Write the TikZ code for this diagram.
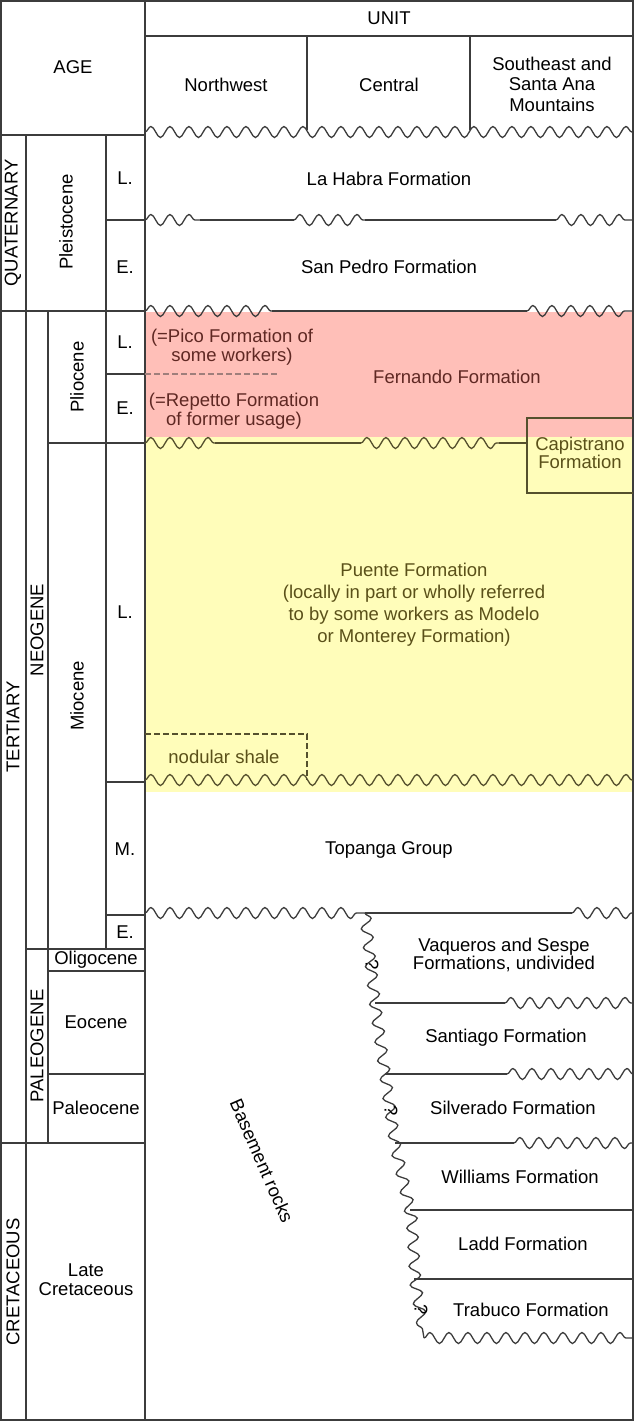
\documentclass[tikz,border=0pt]{standalone}
\usepackage{fontspec}
\setmainfont{Liberation Sans}
\usepackage{xcolor}
\usepackage{tikz}
\usetikzlibrary{decorations.pathmorphing}

\definecolor{pinkfill}{RGB}{255,191,184}
\definecolor{yellowfill}{RGB}{255,253,186}
\definecolor{pinktext}{RGB}{95,40,35}
\definecolor{olivetext}{RGB}{90,80,25}
\definecolor{oliveline}{RGB}{85,80,45}
\definecolor{gridcol}{RGB}{60,60,60}

\newcommand{\txtsize}[1]{\fontsize{18.5}{#1}\selectfont}

\tikzset{
  gridline/.style={draw=gridcol, line width=1.3pt},
  wavyline/.style={decorate, decoration={snake, segment length=19pt, amplitude=5.5pt}},
  dashline/.style={line width=1.1pt, dash pattern=on 6pt off 3pt},
  pinklbl/.style={text=pinktext, align=center},
  olivelbl/.style={text=olivetext, align=center}
}

\begin{document}
\begin{tikzpicture}[x=1pt, y=-1pt, font=\txtsize{21}]
    \useasboundingbox (0,0) rectangle (635,1422);

    % Coloured units
    \fill[pinkfill] (145,312) rectangle (633,437);
    \fill[yellowfill] (145,437) rectangle (633,792);

    % Frame and header
    \draw[gridline] (1,1) rectangle (633,1420);
    \draw[gridline] (145,1) -- (145,1420);
    \draw[gridline] (145,36) -- (633,36);
    \draw[gridline] (307,36) -- (307,130) (470,36) -- (470,130);
    \draw[gridline] (1,135) -- (145,135);

    % Age columns
    \draw[gridline] (26,135) -- (26,1420);
    \draw[gridline] (106,135) -- (106,949);
    \draw[gridline] (48,311) -- (48,1143);
    \draw[gridline] (106,220) -- (145,220);
    \draw[gridline] (1,311) -- (145,311);
    \draw[gridline] (106,374) -- (145,374);
    \draw[gridline] (48,443) -- (145,443);
    \draw[gridline] (106,782) -- (145,782);
    \draw[gridline] (106,915) -- (145,915);
    \draw[gridline] (26,949) -- (145,949);
    \draw[gridline] (48,971) -- (145,971);
    \draw[gridline] (48,1074) -- (145,1074);
    \draw[gridline] (1,1143) -- (145,1143);

    % Unit contacts
    \draw[gridline, wavyline] (145,132) -- (633,132);
    \draw[gridline] (200,220) -- (294,220) (365,220) -- (556,220);
    \draw[gridline, wavyline] (145,220) -- (200,220);
    \draw[gridline, wavyline] (294,220) -- (365,220);
    \draw[gridline, wavyline] (556,220) -- (633,220);
    \draw[gridline] (272,311) -- (527,311);
    \draw[gridline, wavyline] (145,311) -- (272,311);
    \draw[gridline, wavyline] (527,311) -- (633,311);
    \draw[draw=pinktext!60, dashline] (145,374) -- (278,374);

    % Capistrano and Puente
    \draw[gridline, draw=oliveline] (633,418) -- (527,418) -- (527,493) -- (633,493);
    \draw[gridline, draw=oliveline] (215,443) -- (361,443) (499,443) -- (527,443);
    \draw[gridline, draw=oliveline, wavyline] (145,443) -- (215,443);
    \draw[gridline, draw=oliveline, wavyline] (361,443) -- (499,443);
    \draw[draw=oliveline, dashline] (145,734) -- (307,734) -- (307,780);
    \draw[gridline, draw=oliveline, wavyline] (145,780) -- (633,780);

    % Topanga and older units
    \draw[gridline] (365,913) -- (572,913);
    \draw[gridline, wavyline] (145,913) -- (365,913);
    \draw[gridline, wavyline] (572,913) -- (633,913);
    \draw[gridline, wavyline] (365,913) -- (375,1003) -- (385,1074) -- (395,1143) -- (410,1210) -- (414,1279) -- (424,1338);
    \draw[gridline] (375,1003) -- (505,1003) (385,1074) -- (507,1074) (395,1143) -- (514,1143);
    \draw[gridline, wavyline] (505,1003) -- (633,1003);
    \draw[gridline, wavyline] (507,1074) -- (633,1074);
    \draw[gridline, wavyline] (514,1143) -- (633,1143);
    \draw[gridline] (410,1210) -- (633,1210) (414,1279) -- (633,1279);
    \draw[gridline, wavyline] (424,1338) -- (633,1338);

    % Header labels
    \node (age) at (73,67) {AGE};
    \node (unit) at (389,18) {UNIT};
    \node (nw) at (226,85) {Northwest};
    \node (central) at (389,85) {Central};
    \node[align=center, font=\txtsize{20.5}] (se) at (552,84) {Southeast and\\Santa Ana\\Mountains};

    % Age labels
    \node[rotate=90] (quat) at (13,223) {QUATERNARY};
    \node[rotate=90] (tert) at (13,727) {TERTIARY};
    \node[rotate=90] (cret) at (13,1282) {CRETACEOUS};
    \node[rotate=90] (neo) at (37,630) {NEOGENE};
    \node[rotate=90] (paleo) at (37,1046) {PALEOGENE};
    \node[rotate=90] (pleist) at (66,222) {Pleistocene};
    \node[rotate=90] (plio) at (77,377) {Pliocene};
    \node[rotate=90] (mio) at (77,696) {Miocene};
    \node (oligo) at (96,960) {Oligocene};
    \node (eoc) at (96,1022) {Eocene};
    \node (paleoc) at (96,1108) {Paleocene};
    \node[align=center, font=\txtsize{19}] (latecret) at (86,1280) {Late\\Cretaceous};
    \node (plL) at (125,178) {L.};
    \node (plE) at (125,267) {E.};
    \node (pliL) at (125,342) {L.};
    \node (pliE) at (125,408) {E.};
    \node (mioL) at (125,612) {L.};
    \node (mioM) at (125,849) {M.};
    \node (mioE) at (125,932) {E.};

    % Unit labels
    \node (lahabra) at (389,179) {La Habra Formation};
    \node (sanpedro) at (389,267) {San Pedro Formation};
    \node[pinklbl, font=\txtsize{19}] (pico) at (232,347) {(=Pico Formation of\\some workers)};
    \node[pinklbl, font=\txtsize{18.5}] (repetto) at (234,411) {(=Repetto Formation\\of former usage)};
    \node[pinklbl] (fernando) at (457,377) {Fernando Formation};
    \node[olivelbl, font=\txtsize{18.5}] (capis) at (580,453) {Capistrano\\Formation};
    \node[olivelbl, font=\txtsize{22}] (puente) at (414,605) {Puente Formation\\(locally in part or wholly referred\\to by some workers as Modelo\\or Monterey Formation)};
    \node[olivelbl] (nodular) at (224,757) {nodular shale};
    \node (topanga) at (389,850) {Topanga Group};
    \node[align=center, font=\txtsize{17.5}] (vaqueros) at (504,955) {Vaqueros and Sespe\\Formations, undivided};
    \node (santiago) at (506,1038) {Santiago Formation};
    \node (silverado) at (513,1108) {Silverado Formation};
    \node (williams) at (520,1177) {Williams Formation};
    \node (ladd) at (523,1244) {Ladd Formation};
    \node (trabuco) at (531,1310) {Trabuco Formation};
    \node[rotate=-66.5] (basement) at (262,1161) {Basement rocks};

    % Queried contacts
    \node[rotate=-90] (q1) at (372,965) {?};
    \node[rotate=-90] (q2) at (391,1111) {?};
    \node[rotate=-90] (q3) at (421,1310) {?};
\end{tikzpicture}
\end{document}
